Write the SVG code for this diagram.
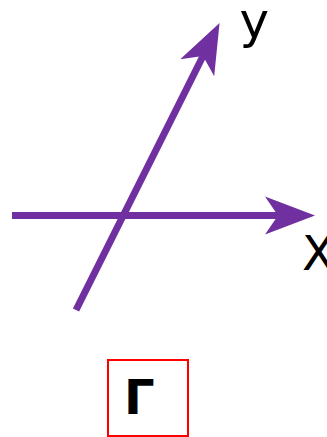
<svg xmlns="http://www.w3.org/2000/svg" width="327" height="437" viewBox="0 0 327 437">
  <style>
    .axis { stroke: #7030A0; stroke-width: 7; fill: none; marker-end: url(#arr); }
    .lbl { font-family: "DejaVu Sans", sans-serif; font-size: 48px; fill: #000; }
    .box { fill: none; stroke: #FF0000; stroke-width: 2; }
  </style>
  <defs>
    <marker id="arr" markerUnits="userSpaceOnUse" markerWidth="52" markerHeight="40" viewBox="0 -20 52 40" refX="15" refY="0" orient="auto">
      <path d="M0,-19 L50,0 L0,19 L13,0 Z" fill="#7030A0"/>
    </marker>
  </defs>
  <g id="connectors">
    <line class="axis" x1="12" y1="215.5" x2="280" y2="215.5"/>
    <line class="axis" x1="76" y1="310" x2="203.9" y2="54.3"/>
  </g>
  <g id="label-y">
    <text class="lbl" x="239.5" y="38" style="font-size:50px">y</text>
  </g>
  <g id="label-x">
    <text class="lbl" x="302" y="270">X</text>
  </g>
  <g id="node-g">
    <rect class="box" x="108" y="360" width="80" height="76"/>
    <text class="lbl" x="124" y="414" font-weight="bold">Г</text>
  </g>
</svg>
